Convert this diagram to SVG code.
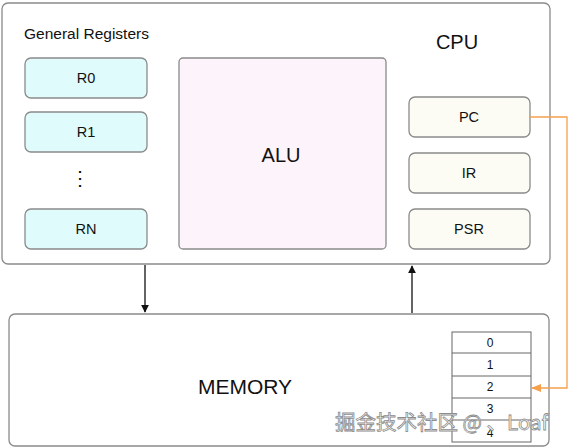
<svg xmlns="http://www.w3.org/2000/svg" width="568" height="448" viewBox="0 0 568 448">
<style>
.box{stroke:#8a8a8a;stroke-width:1.3}
.reg{fill:#e0fbfc}
.spc{fill:#fdfcf4}
.t{font-family:"Liberation Sans",Arial,sans-serif;fill:#111;text-anchor:middle}
.s{font-size:14.5px}
.l{font-size:20px}
.c{font-size:12px}
.wm{font-family:"Noto Sans CJK SC","Liberation Sans",sans-serif;font-size:20.5px;fill:#fff;stroke:#8c8c8c;stroke-width:0.8}
</style>
<defs>
<marker id="ab" viewBox="0 0 10 10" refX="9" refY="5" markerWidth="8" markerHeight="8" markerUnits="userSpaceOnUse" orient="auto">
<path d="M0,0 L10,5 L0,10 z" fill="#111"/>
</marker>
<marker id="ao" viewBox="0 0 10 10" refX="9" refY="5" markerWidth="10" markerHeight="10" markerUnits="userSpaceOnUse" orient="auto">
<path d="M0,1 L10,5 L0,9 z" fill="#f5a04c"/>
</marker>
</defs>
<rect width="568" height="448" fill="#fff"/>
<g id="cpu">
<rect class="box" x="2" y="3" width="548" height="261" rx="6" fill="#fff"/>
<text class="t l" x="457" y="49">CPU</text>
<text class="t" x="24" y="39" style="text-anchor:start;font-size:15.5px">General Registers</text>
</g>
<g id="r0"><rect class="box reg" x="25" y="58" width="122" height="40" rx="6"/><text class="t s" x="86" y="83">R0</text></g>
<g id="r1"><rect class="box reg" x="25" y="112" width="122" height="40" rx="6"/><text class="t s" x="86" y="137">R1</text></g>
<g id="dots"><text class="t l" x="80" y="185">⋮</text></g>
<g id="rn"><rect class="box reg" x="25" y="209" width="122" height="40" rx="6"/><text class="t s" x="86" y="234">RN</text></g>
<g id="alu"><rect class="box" x="179" y="58" width="207" height="191" rx="4" fill="#fdf3fb"/><text class="t l" x="281" y="162">ALU</text></g>
<g id="pc"><rect class="box spc" x="409" y="97" width="121" height="40" rx="6"/><text class="t s" x="469" y="122">PC</text></g>
<g id="ir"><rect class="box spc" x="409" y="153" width="121" height="40" rx="6"/><text class="t s" x="469" y="178">IR</text></g>
<g id="psr"><rect class="box spc" x="409" y="209" width="121" height="40" rx="6"/><text class="t s" x="469" y="234">PSR</text></g>
<g id="memory">
<rect class="box" x="9" y="314" width="540" height="132" rx="6" fill="#fff"/>
<text class="t" x="245" y="394" style="font-size:21px">MEMORY</text>
</g>
<g id="memtable">
<rect x="452" y="332" width="79" height="110" fill="#fff" stroke="#666" stroke-width="1"/>
<line x1="452" y1="353" x2="531" y2="353" stroke="#666"/>
<line x1="452" y1="376" x2="531" y2="376" stroke="#666"/>
<line x1="452" y1="398" x2="531" y2="398" stroke="#666"/>
<line x1="452" y1="420" x2="531" y2="420" stroke="#666"/>
<text class="t c" x="490" y="347">0</text>
<text class="t c" x="490" y="369">1</text>
<text class="t c" x="490" y="391">2</text>
<text class="t c" x="490" y="413">3</text>
<text class="t c" x="490" y="437">4</text>
</g>
<g id="connectors">
<line x1="145" y1="265" x2="145" y2="312" stroke="#111" stroke-width="1.3" marker-end="url(#ab)"/>
<line x1="412" y1="313" x2="412" y2="266" stroke="#111" stroke-width="1.3" marker-end="url(#ab)"/>
<polyline points="530,117 567,117 567,388 532,388" fill="none" stroke="#f5a04c" stroke-width="1.3" marker-end="url(#ao)"/>
</g>
<text class="wm" x="335" y="430">掘金技术社区 @ 、Loaf</text>
</svg>
